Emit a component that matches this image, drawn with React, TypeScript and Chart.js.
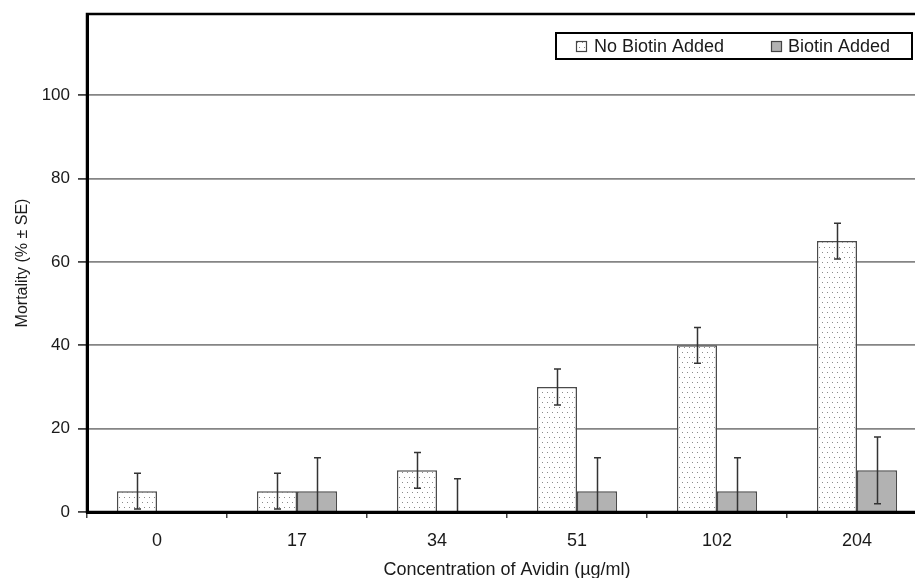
import React, { useEffect, useRef } from "react";
import { Chart, registerables } from "chart.js";

Chart.register(...registerables);

// ---- data ----
const categories = ["0", "17", "34", "51", "102", "204"];
const seriesNames = ["No Biotin Added", "Biotin Added"];
const noBiotin = [5, 5, 10, 30, 40, 65];
const noBiotinSE = [4.3, 4.3, 4.3, 4.3, 4.3, 4.3];
const biotin = [0, 5, 0, 5, 5, 10];
const biotinSE = [0, 8, 8, 8, 8, 8];
const yTicks = [0, 20, 40, 60, 80, 100];
const xTitle = "Concentration of Avidin (µg/ml)";
const yTitle = "Mortality (% ± SE)";

const FAMILY = "'Liberation Sans', Arial, sans-serif";
const TEXT = "#1a1a1a";

function makeDots(): CanvasPattern | string {
  const c = document.createElement("canvas");
  c.width = 10;
  c.height = 10;
  const g = c.getContext("2d");
  if (!g) return "#fff";
  g.fillStyle = "#ffffff";
  g.fillRect(0, 0, 10, 10);
  g.fillStyle = "#8a8a8a";
  g.fillRect(2, 2, 1, 1);
  g.fillRect(7, 2, 1, 1);
  g.fillRect(4, 7, 1, 1);
  g.fillRect(9, 7, 1, 1);
  return g.createPattern(c, "repeat") || "#fff";
}

const errorBarPlugin = {
  id: "errorBars",
  afterDatasetsDraw(chart: any) {
    const ctx = chart.ctx;
    const ys = chart.scales.y;
    ctx.save();
    ctx.strokeStyle = "#333";
    ctx.lineWidth = 1.5;
    chart.data.datasets.forEach((ds: any, di: number) => {
      const meta = chart.getDatasetMeta(di);
      const errs: number[] = ds.errors || [];
      meta.data.forEach((bar: any, i: number) => {
        const e = errs[i];
        if (!e) return;
        const v = ds.data[i] as number;
        const x = Math.round(bar.x) + 0.5;
        const yTop = ys.getPixelForValue(v + e);
        const lowVal = v - e;
        const yBot = ys.getPixelForValue(Math.max(lowVal, 0));
        ctx.beginPath();
        ctx.moveTo(x, yTop);
        ctx.lineTo(x, yBot);
        ctx.moveTo(x - 3.5, yTop);
        ctx.lineTo(x + 3.5, yTop);
        if (lowVal >= 0) {
          ctx.moveTo(x - 3.5, yBot);
          ctx.lineTo(x + 3.5, yBot);
        }
        ctx.stroke();
      });
    });
    ctx.restore();
  },
};

const frameLegendPlugin = {
  id: "frameLegend",
  afterDraw(chart: any) {
    const ctx = chart.ctx;
    const a = chart.chartArea;
    ctx.save();
    // frame
    ctx.strokeStyle = "#000";
    ctx.lineWidth = 2.5;
    ctx.strokeRect(a.left, a.top, a.right - a.left, a.bottom - a.top);

    // legend box
    const bx = 556, by = 33, bw = 356, bh = 26;
    ctx.fillStyle = "#fff";
    ctx.fillRect(bx, by, bw, bh);
    ctx.lineWidth = 2;
    ctx.strokeStyle = "#000";
    ctx.strokeRect(bx, by, bw, bh);

    const items = [
      { x: 576, tx: 594 },
      { x: 771, tx: 788 },
    ];
    ctx.font = `18px ${FAMILY}`;
    ctx.textBaseline = "middle";
    ctx.textAlign = "left";
    chart.data.datasets.forEach((ds: any, i: number) => {
      const it = items[i];
      if (!it) return;
      ctx.fillStyle = ds.backgroundColor;
      ctx.fillRect(it.x, 41, 11, 11);
      ctx.lineWidth = 1.2;
      ctx.strokeStyle = "#444";
      ctx.strokeRect(it.x + 0.5, 41.5, 10, 10);
      ctx.fillStyle = TEXT;
      ctx.fillText(ds.label, it.tx, 47);
    });
    ctx.restore();
  },
};

export default function App() {
  const ref = useRef<HTMLCanvasElement | null>(null);

  useEffect(() => {
    const canvas = ref.current;
    if (!canvas) return;
    const dots = makeDots();
    const chart = new Chart(canvas, {
      type: "bar",
      data: {
        labels: categories,
        datasets: [
          {
            label: seriesNames[0],
            data: noBiotin,
            backgroundColor: dots as any,
            borderColor: "#4a4a4a",
            borderWidth: 1.5,
            categoryPercentage: 0.573,
            barPercentage: 1,
            errors: noBiotinSE,
          } as any,
          {
            label: seriesNames[1],
            data: biotin,
            backgroundColor: "#b2b2b2",
            borderColor: "#4a4a4a",
            borderWidth: 1.5,
            categoryPercentage: 0.573,
            barPercentage: 1,
            errors: biotinSE,
          } as any,
        ],
      },
      options: {
        responsive: false,
        animation: false,
        layout: { padding: { top: 14, right: 13, left: 0, bottom: 0 } },
        plugins: {
          legend: { display: false },
          tooltip: { enabled: false },
        },
        scales: {
          x: {
            type: "category",
            offset: true,
            grid: {
              display: true,
              drawOnChartArea: false,
              drawTicks: true,
              tickLength: 6,
              offset: true,
              color: "#444",
              lineWidth: 1.5,
            },
            border: { display: true, color: "#000", width: 3 },
            ticks: {
              font: { size: 18, family: FAMILY },
              color: TEXT,
              padding: 12,
              maxRotation: 0,
            },
            title: {
              display: true,
              text: xTitle,
              font: { size: 18, family: FAMILY },
              color: TEXT,
              padding: { top: 0, bottom: 9 },
            },
            afterFit: (s: any) => {
              s.height = 78;
              s.paddingLeft = 0;
              s.paddingRight = 0;
            },
          },
          y: {
            min: 0,
            max: 119.5,
            afterBuildTicks: (s: any) => {
              s.ticks = yTicks.map((v) => ({ value: v }));
            },
            ticks: {
              font: { size: 17, family: FAMILY },
              color: TEXT,
              padding: 8,
            },
            grid: {
              color: "#858585",
              lineWidth: 1.8,
              drawTicks: true,
              tickLength: 9,
              tickColor: "#444",
            },
            border: { display: true, color: "#000", width: 3 },
            title: {
              display: true,
              text: yTitle,
              font: { size: 16, family: FAMILY },
              color: TEXT,
              padding: { top: 13, bottom: 0 },
            },
            afterFit: (s: any) => {
              s.width = 87;
              s.paddingTop = 0;
              s.paddingBottom = 0;
            },
          },
        },
      } as any,
      plugins: [errorBarPlugin, frameLegendPlugin],
    });
    return () => chart.destroy();
  }, []);

  return (
    <div
      style={{
        position: "fixed",
        left: 0,
        top: 0,
        width: 915,
        height: 578,
        overflow: "hidden",
        background: "#fff",
      }}
    >
      <canvas ref={ref} width={940} height={590} style={{ display: "block" }} />
    </div>
  );
}
